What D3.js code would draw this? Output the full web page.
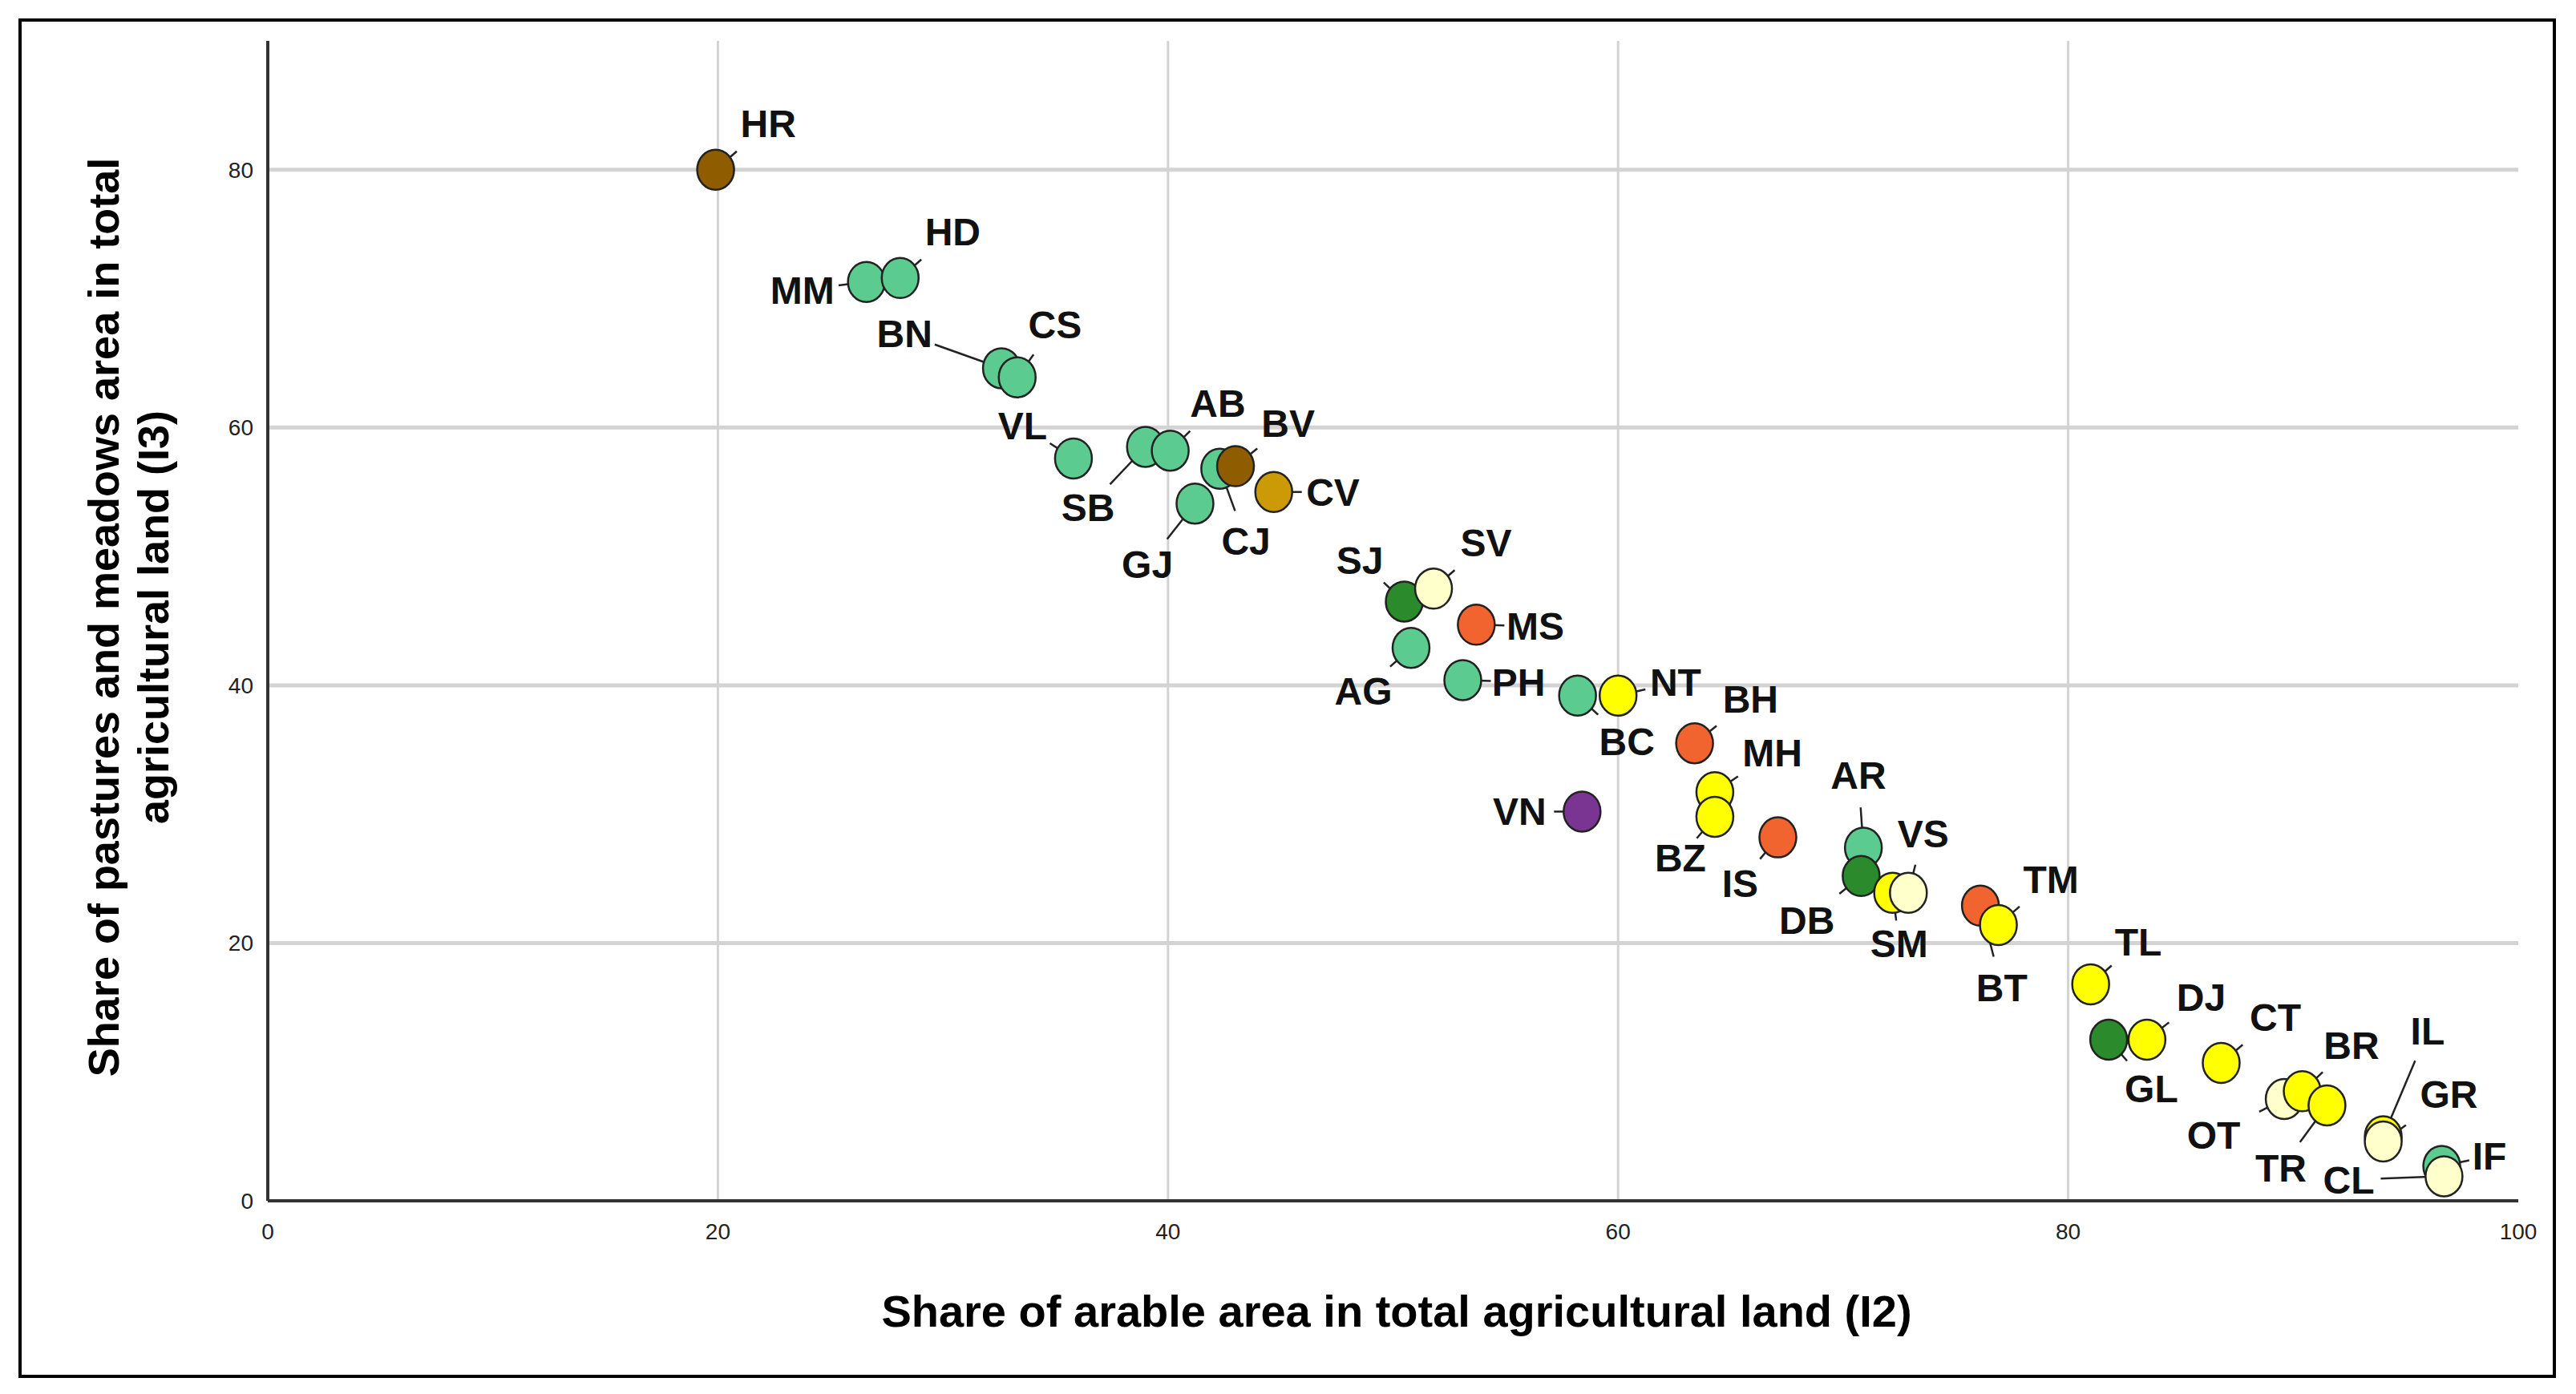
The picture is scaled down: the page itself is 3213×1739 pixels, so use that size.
<!DOCTYPE html>
<html><head><meta charset="utf-8">
<script src="https://cdn.jsdelivr.net/npm/d3@7"></script>
<style>body{margin:0;background:#fff}svg{display:block}</style></head>
<body><svg id="c" width="3213" height="1739"></svg>
<script>
const codes = ["HR","MM","HD","BN","CS","VL","SB","AB","CJ","BV","CV","GJ","SJ","SV","MS","AG","PH","BC","NT","BH","MH","BZ","VN","IS","AR","DB","SM","VS","BT","TM","TL","GL","DJ","CT","OT","BR","TR","IL","GR","IF","CL"];
const arable = [19.9,26.6,28.1,32.6,33.3,35.8,39.0,40.1,42.3,43.0,44.7,41.2,50.5,51.8,53.7,50.8,53.1,58.2,60.0,63.4,64.3,64.3,58.4,67.1,70.9,70.8,72.2,72.9,76.1,76.9,81.0,81.8,83.5,86.8,89.6,90.4,91.5,94.0,94.0,96.6,96.7];
const pasture = [80.0,71.3,71.6,64.6,63.9,57.6,58.5,58.2,56.8,57.0,55.0,54.1,46.5,47.5,44.7,42.9,40.4,39.2,39.2,35.5,31.7,29.8,30.2,28.2,27.4,25.2,23.9,23.9,22.9,21.4,16.8,12.5,12.5,10.7,7.9,8.5,7.4,5.0,4.6,2.7,1.9];
const group = ["brown","green","green","green","green","green","green","green","green","brown","gold","green","dkgreen","cream","orange","green","green","green","yellow","orange","yellow","yellow","purple","orange","green","dkgreen","yellow","cream","orange","yellow","yellow","dkgreen","yellow","yellow","cream","yellow","yellow","yellow","cream","green","cream"];
// label offsets (px, relative to point) and leader flag
const labDx = [32,-39,32,-59,23,-31,-35,29,16,32,36,-29,-27,32,36,-29,34,30,35,34,35,-21,-38,-23,-3,-33,4,9,13,32,29,26,33,33,-43,30,-28,27,40,29,-58];
const labDy = [-28,5,-28,-21,-32,-20,37,-29,44,-26,0,37,-25,-28,1,26,1,28,-8,-27,-24,25,0,28,-44,27,31,-36,50,-28,-26,30,-26,-28,22,-28,38,-64,-29,-6,2];
const leader = [0,0,0,1,0,0,1,0,1,0,0,1,0,0,0,0,0,0,0,0,0,0,0,0,1,0,0,1,1,0,0,0,0,0,0,0,1,1,0,0,1];
const xTicks=[0,20,40,60,80,100], yTicks=[0,20,40,60,80];
const colors={brown:"#8f5d00",green:"#5ccb8f",gold:"#cc9a06",dkgreen:"#2b8a2b",cream:"#ffffcc",yellow:"#ffff00",orange:"#f1642f",purple:"#7a3593"};
const S=2.049;
const svg=d3.select("#c");
svg.append("rect").attr("x",25).attr("y",25).attr("width",3161).attr("height",1692).attr("fill","none").attr("stroke","#000").attr("stroke-width",4);
const x=d3.scaleLinear().domain([0,100]).range([334,3141]);
const y=d3.scaleLinear().domain([0,90]).range([1498,51]);
const g=svg.append("g");
xTicks.filter(d=>d>0&&d<100).forEach(d=>g.append("line").attr("x1",x(d)).attr("x2",x(d)).attr("y1",y(90)).attr("y2",y(0)).attr("stroke","#d3d3d3").attr("stroke-width",3));
yTicks.filter(d=>d>0).forEach(d=>g.append("line").attr("x1",x(0)).attr("x2",x(100)).attr("y1",y(d)).attr("y2",y(d)).attr("stroke","#d3d3d3").attr("stroke-width",5));
g.append("line").attr("x1",x(0)).attr("x2",x(0)).attr("y1",y(90)).attr("y2",y(0)).attr("stroke","#333").attr("stroke-width",4);
g.append("line").attr("x1",x(0)).attr("x2",x(100)).attr("y1",y(0)).attr("y2",y(0)).attr("stroke","#333").attr("stroke-width",4);
const tf="'Liberation Sans Narrow','Liberation Sans',Arial,sans-serif";
xTicks.forEach(d=>g.append("text").attr("x",x(d)).attr("y",y(0)+48).attr("text-anchor","middle").attr("font-family",tf).attr("font-size",28).attr("fill","#222").text(d));
yTicks.forEach(d=>g.append("text").attr("x",x(0)-18).attr("y",y(d)+10).attr("text-anchor","end").attr("font-family",tf).attr("font-size",28).attr("fill","#222").text(d));
const bf="'Liberation Sans',Arial,sans-serif";
svg.append("text").attr("x",1742).attr("y",1655).attr("text-anchor","middle").attr("font-family",bf).attr("font-weight","bold").attr("font-size",56).text("Share of arable area in total agricultural land (I2)");
const yt=svg.append("text").attr("transform","translate(148,770) rotate(-90)").attr("text-anchor","middle").attr("font-family",bf).attr("font-weight","bold").attr("font-size",54);
yt.append("tspan").attr("x",0).attr("dy",0).text("Share of pastures and meadows area in total");
yt.append("tspan").attr("x",0).attr("dy",62).text("agricultural land (I3)");
const r=23;
const pts=codes.map((c,i)=>({c,x:x(arable[i]),y:y(pasture[i]),col:colors[group[i]],lx:x(arable[i])+labDx[i]*S,ly:y(pasture[i])+labDy[i]*S,lead:leader[i]}));
pts.forEach(p=>{
  const dx=p.lx-p.x, dy=p.ly-p.y, L=Math.hypot(dx,dy);
  const ux=dx/L, uy=dy/L;
  const len=p.lead? L-40 : r+12;
  g.append("line").attr("x1",p.x+ux*(r-4)).attr("y1",p.y+uy*(r-4)).attr("x2",p.x+ux*Math.max(len,r+10)).attr("y2",p.y+uy*Math.max(len,r+10)).attr("stroke","#222").attr("stroke-width",2.5);
});
pts.forEach(p=>g.append("ellipse").attr("cx",p.x).attr("cy",p.y).attr("rx",r).attr("ry",r+2).attr("fill",p.col).attr("stroke","#222").attr("stroke-width",2.5));
pts.forEach(p=>g.append("text").attr("x",p.lx).attr("y",p.ly+17).attr("text-anchor","middle").attr("font-family",bf).attr("font-weight","bold").attr("font-size",48).attr("fill","#111").text(p.c));
</script></body></html>
